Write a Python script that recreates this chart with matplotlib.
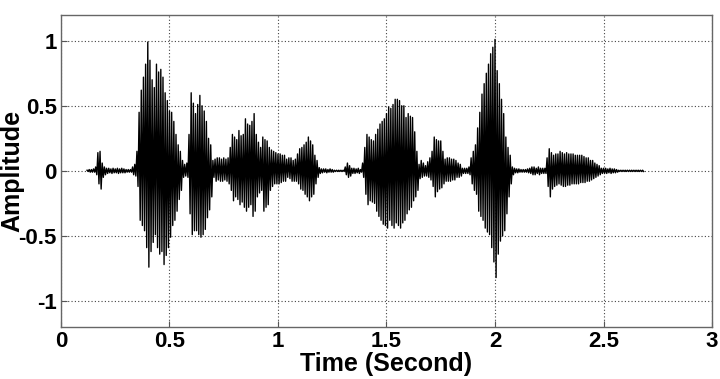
import numpy as np
import matplotlib
matplotlib.use('Agg')
import matplotlib.pyplot as plt

# Speech waveform envelope, one peak pair every 10 ms
T_START = 0.12
STEP = 0.01

upper = [
    0.005, 0.01, 0.01, 0.015, 0.03, 0.14, 0.15, 0.06, 0.03, 0.02,
    0.02, 0.015, 0.02, 0.015, 0.02, 0.015, 0.02, 0.015, 0.01, 0.01,
    0.01, 0.03, 0.05, 0.15, 0.45, 0.62, 0.72, 0.82, 0.99, 0.85,
    0.70, 0.64, 0.82, 0.76, 0.78, 0.72, 0.60, 0.54, 0.46, 0.45,
    0.38, 0.28, 0.20, 0.15, 0.08, 0.05, 0.06, 0.28, 0.60, 0.52,
    0.44, 0.51, 0.58, 0.50, 0.46, 0.38, 0.25, 0.20, 0.08, 0.09,
    0.10, 0.10, 0.09, 0.10, 0.09, 0.10, 0.18, 0.28, 0.26, 0.24,
    0.31, 0.27, 0.28, 0.40, 0.36, 0.35, 0.38, 0.44, 0.28, 0.22,
    0.18, 0.26, 0.24, 0.23, 0.18, 0.16, 0.15, 0.14, 0.13, 0.13,
    0.12, 0.12, 0.09, 0.10, 0.10, 0.08, 0.09, 0.13, 0.17, 0.18,
    0.20, 0.22, 0.26, 0.23, 0.20, 0.12, 0.08, 0.025, 0.015, 0.015,
    0.015, 0.01, 0.015, 0.01, 0.005, 0.005, 0.005, 0.005, 0.005, 0.03,
    0.06, 0.04, 0.02, 0.02, 0.015, 0.02, 0.01, 0.06, 0.18, 0.28,
    0.26, 0.24, 0.23, 0.28, 0.32, 0.36, 0.38, 0.40, 0.44, 0.49,
    0.48, 0.51, 0.55, 0.55, 0.54, 0.50, 0.50, 0.41, 0.44, 0.42,
    0.41, 0.30, 0.15, 0.05, 0.08, 0.06, 0.04, 0.07, 0.10, 0.15,
    0.26, 0.24, 0.23, 0.23, 0.15, 0.09, 0.10, 0.10, 0.09, 0.09,
    0.08, 0.06, 0.05, 0.02, 0.02, 0.02, 0.03, 0.10, 0.15, 0.20,
    0.33, 0.45, 0.59, 0.67, 0.75, 0.82, 0.90, 0.95, 1.01, 0.77,
    0.67, 0.55, 0.44, 0.26, 0.18, 0.12, 0.03, 0.02, 0.015, 0.015,
    0.01, 0.01, 0.01, 0.015, 0.02, 0.03, 0.03, 0.02, 0.03, 0.02,
    0.02, 0.02, 0.10, 0.17, 0.14, 0.12, 0.13, 0.13, 0.15, 0.14,
    0.13, 0.14, 0.13, 0.13, 0.13, 0.12, 0.12, 0.12, 0.12, 0.11,
    0.10, 0.10, 0.08, 0.08, 0.06, 0.05, 0.04, 0.02, 0.02, 0.02,
    0.015, 0.02, 0.015, 0.015, 0.01, 0.005, 0.005, 0.005, 0.005, 0.005,
    0.005, 0.005, 0.005, 0.005, 0.005, 0.005, 0.005,
]

lower = [
    -0.005, -0.01, -0.01, -0.01, -0.03, -0.10, -0.14, -0.05, -0.03, -0.02,
    -0.015, -0.02, -0.015, -0.015, -0.02, -0.015, -0.015, -0.015, -0.01, -0.01,
    -0.01, -0.03, -0.04, -0.12, -0.38, -0.42, -0.46, -0.59, -0.74, -0.62,
    -0.55, -0.49, -0.59, -0.64, -0.62, -0.72, -0.65, -0.59, -0.51, -0.42,
    -0.38, -0.31, -0.22, -0.15, -0.05, -0.04, -0.05, -0.33, -0.49, -0.46,
    -0.46, -0.49, -0.51, -0.49, -0.45, -0.36, -0.30, -0.20, -0.05, -0.08,
    -0.07, -0.08, -0.08, -0.07, -0.08, -0.10, -0.15, -0.23, -0.20, -0.22,
    -0.26, -0.24, -0.28, -0.31, -0.28, -0.26, -0.35, -0.31, -0.20, -0.17,
    -0.15, -0.31, -0.28, -0.26, -0.15, -0.12, -0.10, -0.10, -0.10, -0.09,
    -0.08, -0.08, -0.05, -0.06, -0.08, -0.08, -0.08, -0.10, -0.14, -0.15,
    -0.18, -0.20, -0.23, -0.20, -0.18, -0.10, -0.05, -0.02, -0.015, -0.01,
    -0.015, -0.01, -0.01, -0.01, -0.005, -0.005, -0.005, -0.005, -0.005, -0.03,
    -0.05, -0.04, -0.02, -0.02, -0.015, -0.02, -0.01, -0.05, -0.18, -0.26,
    -0.23, -0.24, -0.25, -0.31, -0.35, -0.38, -0.41, -0.42, -0.44, -0.38,
    -0.42, -0.44, -0.40, -0.42, -0.44, -0.40, -0.38, -0.33, -0.30, -0.28,
    -0.23, -0.20, -0.15, -0.06, -0.05, -0.04, -0.04, -0.05, -0.07, -0.12,
    -0.20, -0.16, -0.14, -0.13, -0.10, -0.08, -0.08, -0.08, -0.07, -0.07,
    -0.05, -0.05, -0.04, -0.02, -0.02, -0.02, -0.03, -0.10, -0.15, -0.18,
    -0.31, -0.35, -0.38, -0.44, -0.47, -0.49, -0.59, -0.70, -0.82, -0.64,
    -0.54, -0.50, -0.46, -0.33, -0.20, -0.10, -0.03, -0.015, -0.015, -0.01,
    -0.01, -0.01, -0.01, -0.015, -0.02, -0.03, -0.03, -0.02, -0.03, -0.02,
    -0.02, -0.02, -0.12, -0.20, -0.14, -0.12, -0.11, -0.10, -0.11, -0.12,
    -0.12, -0.11, -0.11, -0.10, -0.10, -0.10, -0.10, -0.09, -0.09, -0.09,
    -0.08, -0.08, -0.07, -0.06, -0.05, -0.04, -0.03, -0.02, -0.02, -0.02,
    -0.015, -0.02, -0.015, -0.015, -0.01, -0.005, -0.005, -0.005, -0.005, -0.005,
    -0.005, -0.005, -0.005, -0.005, -0.005, -0.005, -0.005,
]

x_ticks = [0, 0.5, 1, 1.5, 2, 2.5, 3]
x_labels = ['0', '0.5', '1', '1.5', '2', '2.5', '3']
y_ticks = [-1, -0.5, 0, 0.5, 1]
y_labels = ['-1', '-0.5', '0', '0.5', '1']

plt.rcParams['font.family'] = ['Liberation Sans', 'DejaVu Sans']

times = T_START + STEP * np.arange(len(upper))

# zigzag between each peak and trough, like a dense waveform
xs = np.empty(2 * len(times))
ys = np.empty(2 * len(times))
xs[0::2] = times
xs[1::2] = times + STEP / 2
ys[0::2] = upper
ys[1::2] = lower

fig = plt.figure(figsize=(7.2, 3.79), dpi=100)
ax = fig.add_axes([0.0847, 0.1372, 0.9042, 0.824])

ax.plot(xs, ys, color='black', linewidth=1.0)

ax.set_xlim(0, 3)
ax.set_ylim(-1.2, 1.2)
ax.set_xticks(x_ticks)
ax.set_xticklabels(x_labels)
ax.set_yticks(y_ticks)
ax.set_yticklabels(y_labels)

ax.grid(True, linestyle=(0, (1, 2)), color='#444444', linewidth=0.8)
ax.tick_params(direction='in', length=4, width=0.8, color='#555555',
               labelsize=16, pad=3)
for lab in ax.get_xticklabels() + ax.get_yticklabels():
    lab.set_fontweight('bold')
for s in ax.spines.values():
    s.set_color('#666666')
    s.set_linewidth(1.0)

ax.set_xlabel('Time (Second)', fontsize=18, fontweight='bold', labelpad=0)
ax.set_ylabel('Amplitude', fontsize=18, fontweight='bold')
ax.yaxis.set_label_coords(-0.056, 0.5)

fig.savefig('out.png', dpi=100)
